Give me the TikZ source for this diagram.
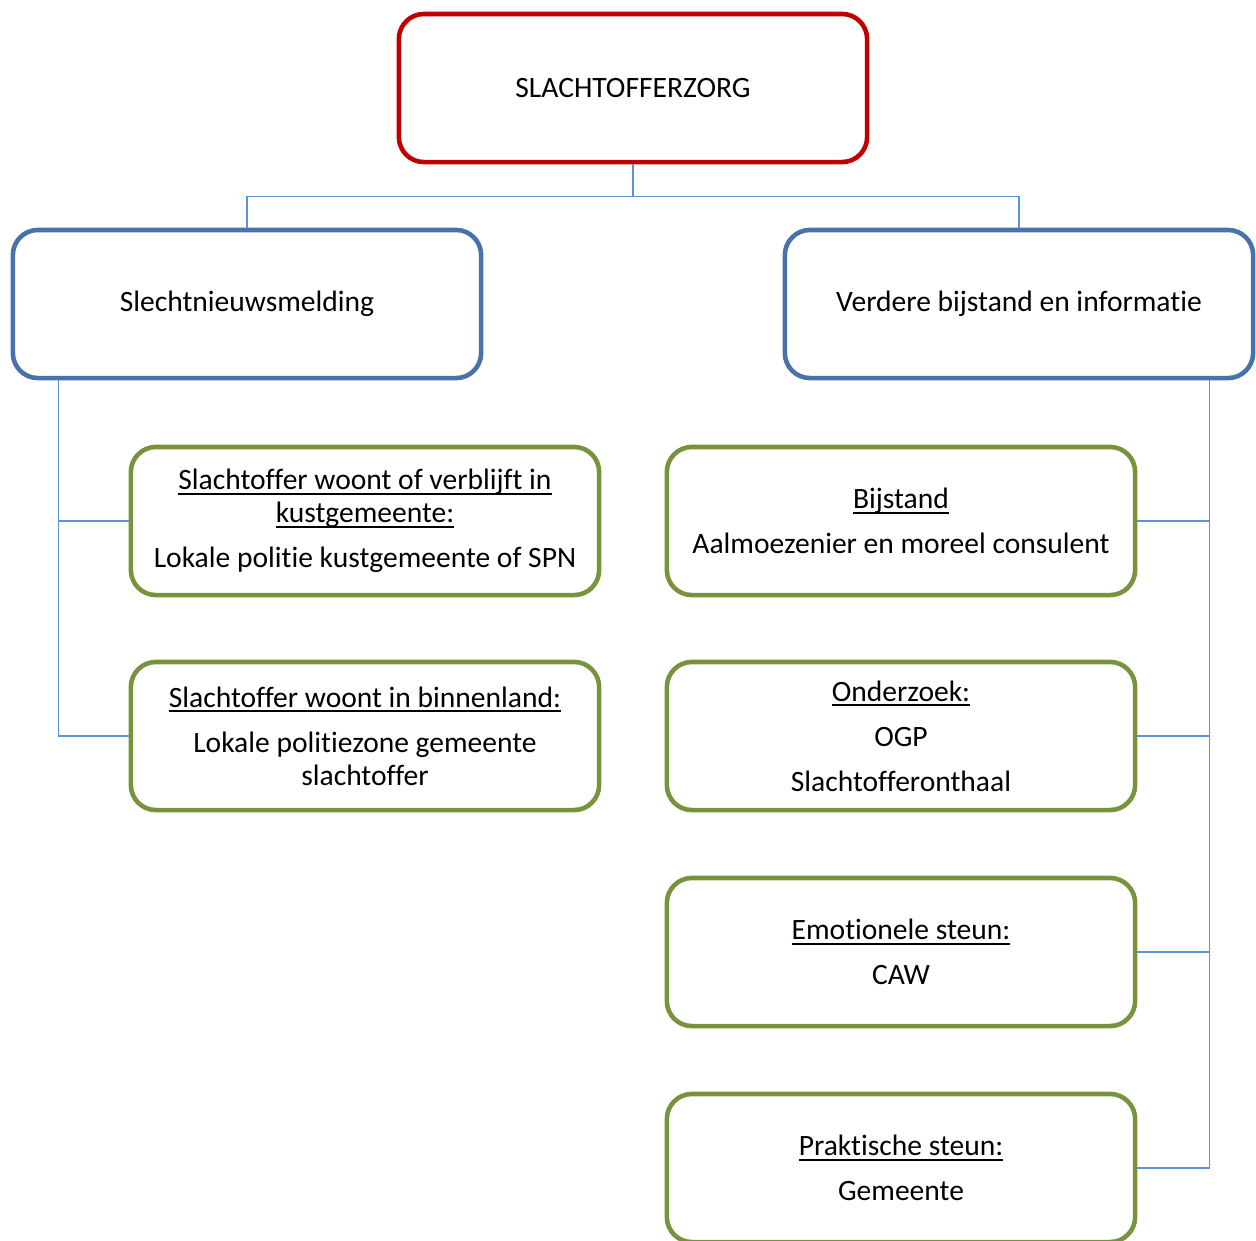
\documentclass[tikz,border=0pt]{standalone}
\usepackage{fontspec}
\setmainfont{Carlito}[Ligatures=NoCommon]
\usetikzlibrary{calc}

\newcommand{\onderlijn}[1]{\setbox0\hbox{#1}\rlap{\rule[-1.4pt]{\wd0}{0.45pt}}\box0}

\definecolor{zorgred}{RGB}{192,0,0}
\definecolor{hoofdblue}{RGB}{71,114,172}
\definecolor{takgreen}{RGB}{119,147,60}
\definecolor{linkblue}{RGB}{91,146,220}

\tikzset{
    box/.style={draw, rounded corners=0.25cm, line width=1.3pt, fill=white, align=center,
        minimum width=4.68cm, minimum height=1.48cm, inner sep=0pt,
        font=\fontsize{8.4}{9.4}\selectfont},
    topbox/.style={box, draw=zorgred},
    headbox/.style={box, draw=hoofdblue},
    subbox/.style={box, draw=takgreen},
    link/.style={draw=linkblue, line width=0.3pt}
}

\begin{document}
\begin{tikzpicture}[x=0.01cm, y=-0.01cm]
    \useasboundingbox (0,0) rectangle (1256,1241);

    % top
    \node[topbox] (zorg) at (633,88) {SLACHTOFFERZORG};

    % two main branches
    \node[headbox] (melding) at (247,304) {Slechtnieuwsmelding};
    \node[headbox] (bijstand) at (1019,304) {Verdere bijstand en informatie};

    % left side
    \node[subbox] (kust) at (365,521) {\onderlijn{Slachtoffer woont of verblijft in}\\\onderlijn{kustgemeente:}\\[3.4pt]Lokale politie kustgemeente of SPN};
    \node[subbox] (binnen) at (365,736) {\onderlijn{Slachtoffer woont in binnenland:}\\[3.4pt]Lokale politiezone gemeente\\slachtoffer};

    % right side
    \node[subbox] (moreel) at (901,521) {\onderlijn{Bijstand}\\[3.4pt]Aalmoezenier en moreel consulent};
    \node[subbox] (onderzoek) at (901,736) {\onderlijn{Onderzoek:}\\[3.4pt]OGP\\[3.4pt]Slachtofferonthaal};
    \node[subbox] (emotioneel) at (901,952) {\onderlijn{Emotionele steun:}\\[3.4pt]CAW};
    \node[subbox] (praktisch) at (901,1168) {\onderlijn{Praktische steun:}\\[3.4pt]Gemeente};

    \draw[link] (zorg.south) -- ++(0,32) -| (melding.north);
    \draw[link] (zorg.south) -- ++(0,32) -| (bijstand.north);

    \draw[link] ([xshift=0.48cm]melding.south west) |- (kust.west);
    \draw[link] ([xshift=0.48cm]melding.south west) |- (binnen.west);

    \draw[link] ([xshift=-0.46cm]bijstand.south east) |- (moreel.east);
    \draw[link] ([xshift=-0.46cm]bijstand.south east) |- (onderzoek.east);
    \draw[link] ([xshift=-0.46cm]bijstand.south east) |- (emotioneel.east);
    \draw[link] ([xshift=-0.46cm]bijstand.south east) |- (praktisch.east);
\end{tikzpicture}
\end{document}
